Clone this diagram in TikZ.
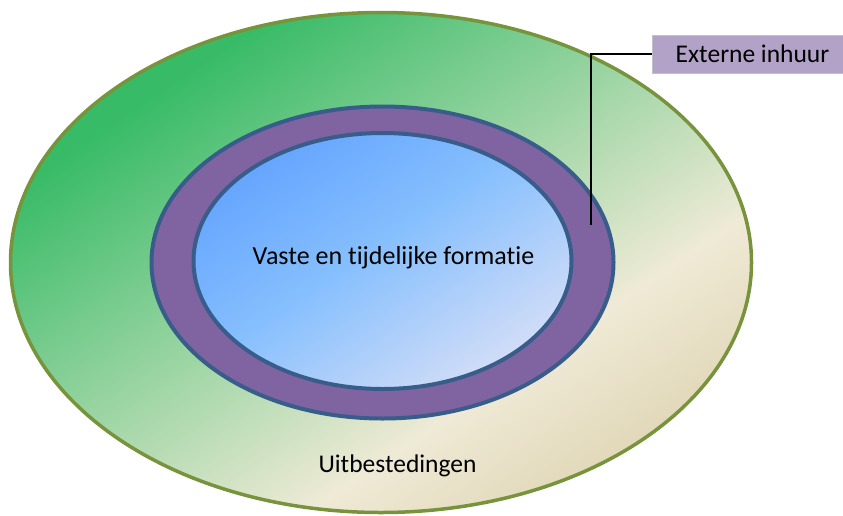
\documentclass[tikz,border=0pt]{standalone}
\usepackage{fontspec}
\setmainfont{Carlito}[Ligatures=NoCommon]
\usetikzlibrary{shapes.geometric}
\definecolor{gstroke}{HTML}{77933C}
\definecolor{ggreen}{HTML}{38BB67}
\definecolor{gbeige}{HTML}{EFEAD6}
\definecolor{gtan}{HTML}{D5C79E}
\definecolor{purp}{HTML}{8064A2}
\definecolor{bstroke}{HTML}{385D8A}
\definecolor{bblue}{HTML}{5C9EFF}
\definecolor{bmid}{HTML}{86BFFD}
\definecolor{bpale}{HTML}{EDE8F5}
\definecolor{lilac}{HTML}{B3A2C7}
% position (bp) = 75 - 50*s, s = 0 at top-left corner, 1 at bottom-right corner
\pgfdeclareverticalshading{outershade}{100bp}{color(0bp)=(gtan); color(25bp)=(gtan);
  color(40bp)=(gbeige); color(66bp)=(ggreen); color(100bp)=(ggreen)}
\pgfdeclareverticalshading{innershade}{100bp}{color(0bp)=(bpale); color(25bp)=(bpale);
  color(52bp)=(bmid); color(72bp)=(bblue); color(100bp)=(bblue)}
\tikzset{
  ring/.style={ellipse, inner sep=0pt, outer sep=0pt},
  outerring/.style={ring, draw=gstroke, line width=3.5pt},
  midring/.style={ring, draw=bstroke, line width=4pt, fill=purp},
  innerring/.style={ring, draw=bstroke, line width=4pt},
  lbl/.style={font=\fontsize{26}{30}\selectfont, text=black},
  tagbox/.style={fill=lilac, draw=lilac!60!gray!60, line width=0.6pt, inner sep=0pt,
    minimum width=191pt, minimum height=38pt, font=\fontsize{25.5}{30}\selectfont},
  leader/.style={draw=black, line width=1.4pt}
}
\begin{document}
\begin{tikzpicture}[x=1pt,y=-1pt]
\useasboundingbox (0,0) rectangle (843,515);
% gradient fill of the outer ellipse
\begin{scope}
  \clip (381,262.5) ellipse [x radius=370.5, y radius=250];
  \begin{scope}[transform canvas={shift={(381,262.5)}, rotate=34}]
    \shade[shading=outershade] (-700,-415) rectangle (700,415);
  \end{scope}
\end{scope}
\node[outerring, minimum width=741pt, minimum height=500pt] (outer) at (381,262.5) {};
\node[midring, minimum width=462pt, minimum height=312pt] (mid) at (382.5,262.5) {};
% gradient fill of the inner ellipse
\begin{scope}
  \clip (382.5,261) ellipse [x radius=189, y radius=128];
  \begin{scope}[transform canvas={shift={(382.5,261)}, rotate=34}]
    \shade[shading=innershade] (-400,-212) rectangle (400,212);
  \end{scope}
\end{scope}
\node[innerring, minimum width=378pt, minimum height=256pt] (inner) at (382.5,261) {};
\node[lbl] (vaste) at (393.5,258) {Vaste en tijdelijke formatie};
\node[lbl, font=\fontsize{25.5}{30}\selectfont] (uit) at (397.5,466) {Uitbestedingen};
\node[tagbox] (ext) at (747.5,54) {\hspace*{10pt}Externe inhuur};
\coordinate (tip) at (591,225);
\draw[leader] (ext.west) -| (tip);
\end{tikzpicture}
\end{document}
